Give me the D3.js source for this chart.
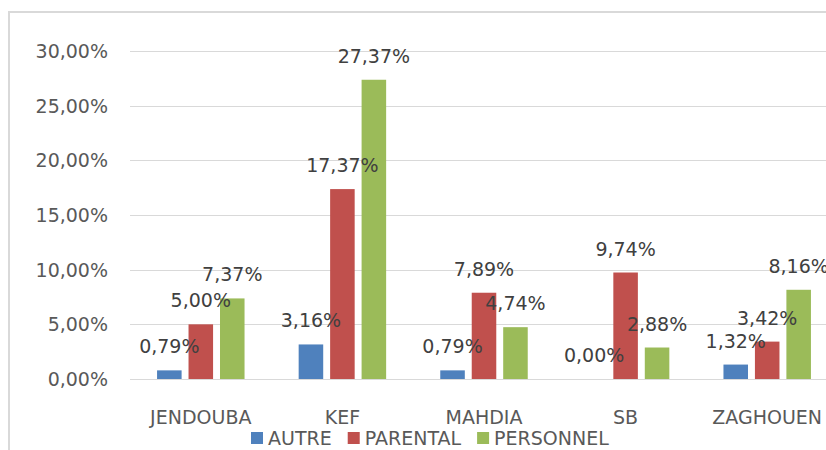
<!DOCTYPE html>
<html>
<head>
<meta charset="utf-8">
<script src="https://cdn.jsdelivr.net/npm/d3@7"></script>
<style>
  body { margin: 0; background: #fff; }
  svg { display: block; }
  text { font-family: "DejaVu Sans", sans-serif; }
</style>
</head>
<body>
<div id="chart"></div>
<script>
// data
var regions = ["JENDOUBA", "KEF", "MAHDIA", "SB", "ZAGHOUEN"];
var series = ["AUTRE", "PARENTAL", "PERSONNEL"];
var autre = [0.79, 3.16, 0.79, 0.00, 1.32];
var parental = [5.00, 17.37, 7.89, 9.74, 3.42];
var personnel = [7.37, 27.37, 4.74, 2.88, 8.16];
var yTicks = [0, 5, 10, 15, 20, 25, 30];
var colors = ["#4f81bd", "#c0504d", "#9bbb59"];

var width = 826, height = 450;
var values = [autre, parental, personnel];

var svg = d3.select("#chart").append("svg")
    .attr("width", width)
    .attr("height", height);

// outer frame of the chart area (cut off on the right and bottom)
svg.append("rect")
    .attr("x", 9).attr("y", 12)
    .attr("width", 900).attr("height", 500)
    .attr("fill", "none")
    .attr("stroke", "#d9d9d9")
    .attr("stroke-width", 2);

var x0 = d3.scaleBand().domain(regions).range([130, 838]);
var x1 = d3.scaleBand().domain(series).range([0, x0.bandwidth()])
    .paddingInner(0.22).paddingOuter(0.86);
var y = d3.scaleLinear().domain([0, 30]).range([379, 51]);
var color = d3.scaleOrdinal().domain(series).range(colors);

function fmt(v) { return d3.format(".2f")(v).replace(".", ",") + "%"; }

// gridlines
svg.append("g").selectAll("line")
    .data(yTicks)
    .enter().append("line")
    .attr("x1", 130).attr("x2", width)
    .attr("y1", function(d) { return Math.round(y(d)) + 0.5; })
    .attr("y2", function(d) { return Math.round(y(d)) + 0.5; })
    .attr("stroke", "#d9d9d9")
    .attr("stroke-width", 1.2);

// y labels
svg.append("g").selectAll("text")
    .data(yTicks)
    .enter().append("text")
    .attr("x", 108)
    .attr("y", function(d) { return y(d) + 7; })
    .attr("text-anchor", "end")
    .attr("font-size", 19)
    .attr("fill", "#595959")
    .text(fmt);

var rows = [];
regions.forEach(function(r, i) {
    series.forEach(function(s, j) {
        rows.push({ region: r, series: s, value: values[j][i] });
    });
});

function barX(d) { return x0(d.region) + x1(d.series); }

// bars first, then all labels on top of them
svg.append("g").selectAll("rect")
    .data(rows)
    .enter().append("rect")
    .attr("x", barX)
    .attr("y", function(d) { return y(d.value); })
    .attr("width", x1.bandwidth())
    .attr("height", function(d) { return y(0) - y(d.value); })
    .attr("fill", function(d) { return color(d.series); });

svg.append("g").selectAll("text")
    .data(rows)
    .enter().append("text")
    .attr("x", function(d) { return barX(d) + x1.bandwidth() / 2; })
    .attr("y", function(d) { return y(d.value) - 17; })
    .attr("text-anchor", "middle")
    .attr("font-size", 19)
    .attr("fill", "#404040")
    .text(function(d) { return fmt(d.value); });

// category labels
svg.append("g").selectAll("text")
    .data(regions)
    .enter().append("text")
    .attr("x", function(d) { return x0(d) + x0.bandwidth() / 2; })
    .attr("y", 424)
    .attr("text-anchor", "middle")
    .attr("font-size", 19)
    .attr("fill", "#595959")
    .text(function(d) { return d; });

// legend
var legend = svg.append("g");
var lx = 251;
series.forEach(function(s) {
    legend.append("rect")
        .attr("x", lx).attr("y", 432)
        .attr("width", 12).attr("height", 12)
        .attr("fill", color(s));
    var t = legend.append("text")
        .attr("x", lx + 17)
        .attr("y", 445)
        .attr("font-size", 19)
        .attr("fill", "#595959")
        .text(s);
    lx += 17 + t.node().getComputedTextLength() + 16;
});
</script>
</body>
</html>
